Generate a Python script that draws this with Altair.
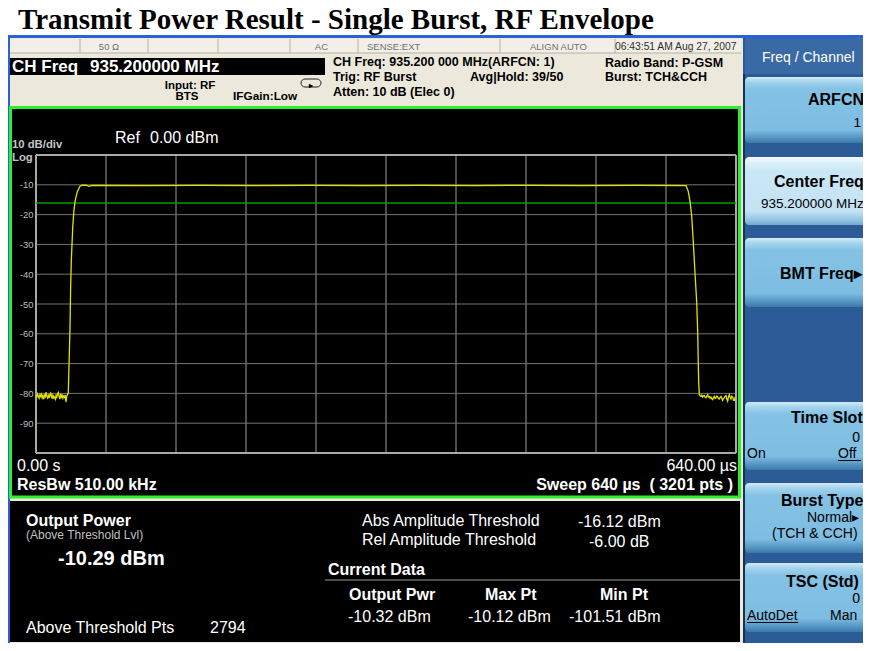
import altair as alt
import pandas as pd

# ---------------- data ----------------
time_us = [
    0.0, 0.7, 1.4, 2.1, 2.8, 3.6, 4.3, 5.0, 5.7, 6.4, 7.1, 7.8, 8.5, 9.2, 9.9, 10.6, 11.3, 12.0, 12.7, 13.4,
    14.1, 14.8, 15.5, 16.2, 16.9, 17.6, 18.3, 19.0, 19.7, 20.4, 21.1, 21.8, 22.5, 23.2, 23.9, 24.6, 25.3, 26.0,
    26.7, 27.4, 28.1, 28.8,
    29.5, 29.9, 31.1, 31.7, 32.3, 33.6, 34.7, 35.9, 37.8, 40.2, 42.3, 44.5, 46.4, 48.7, 50.9,
    100, 150, 200, 250, 300, 350, 400, 450, 500, 550, 594.3,
    596.3, 597.9, 599.5, 601.0, 602.5, 604.1, 605.0, 605.5, 605.9, 606.5,
    607.2, 608.0, 608.7, 609.5, 610.2, 611.0, 611.8, 612.6, 613.3, 614.1, 614.8, 615.6, 616.3, 617.1, 617.9,
    618.7, 619.4, 620.2, 620.9, 621.7, 622.5, 623.3, 624.0, 624.8, 625.5, 626.3, 627.0, 627.8, 628.5, 629.3,
    630.1, 630.9, 631.6, 632.4, 633.1, 633.9, 634.6, 635.4, 636.2, 637.0, 637.7, 638.5, 639.2, 640.0,
]
power_dbm = [
    -80.6, -81.3, -80.2, -80.9, -81.6, -80.4, -81.0, -80.3, -81.5, -80.8, -81.9, -80.6, -81.1, -79.6, -80.9,
    -81.5, -80.7, -81.6, -80.4, -79.9, -81.2, -80.6, -81.8, -80.9, -81.4, -82.0, -80.7, -81.3, -80.1, -79.7,
    -81.0, -81.9, -80.5, -81.2, -80.3, -81.6, -80.9, -81.3, -80.5, -82.9, -81.0, -80.3,
    -80.0, -74.5, -57.7, -44.0, -35.3, -24.1, -18.5, -15.1, -12.3, -10.5, -10.12, -10.15, -10.2, -10.5, -10.2,
    -10.25, -10.2, -10.25, -10.2, -10.25, -10.2, -10.25, -10.2, -10.25, -10.2, -10.3,
    -12.1, -15.5, -20.5, -29.5, -39.5, -49.6, -59.7, -69.7, -76.5, -80.4,
    -80.8, -81.0, -80.6, -81.2, -80.9, -80.7, -81.3, -81.5, -80.9, -80.4, -81.2, -81.0, -81.6, -81.2, -81.8,
    -82.1, -81.4, -81.0, -81.7, -81.5, -80.9, -81.2, -81.8, -81.9, -81.3, -81.0, -81.6, -82.3, -81.7, -81.5,
    -80.9, -80.7, -81.9, -82.6, -81.2, -80.4, -81.3, -81.9, -81.0, -81.2, -82.3, -82.3, -81.4, -81.5,
]
x_grid_us = [0, 64, 128, 192, 256, 320, 384, 448, 512, 576, 640]
y_grid_db = [0, -10, -20, -30, -40, -50, -60, -70, -80, -90, -100]
y_tick_db = [-10, -20, -30, -40, -50, -60, -70, -80, -90]
threshold_dbm = [-16.12]

# ---------------- geometry of the page ----------------
OX, OY = 36, 155          # screen position of the grid's top-left corner
W, H = 700, 298           # grid size
SANS = "Liberation Sans"
SERIF = "Liberation Serif"

one = pd.DataFrame({"k": [0]})
bg, fg = [], []


def box(x1, y1, x2, y2, fill, stroke=None, sw=1, r=0, to=bg):
    kw = dict(fill=fill, cornerRadius=r)
    if stroke:
        kw.update(stroke=stroke, strokeWidth=sw)
    else:
        kw.update(strokeWidth=0)
    to.append(alt.Chart(one).mark_rect(**kw).encode(
        x=alt.value(x1 - OX), x2=alt.value(x2 - OX),
        y=alt.value(y1 - OY), y2=alt.value(y2 - OY)))


def line(x1, y1, x2, y2, color, sw=1, to=bg):
    to.append(alt.Chart(one).mark_rule(color=color, strokeWidth=sw).encode(
        x=alt.value(x1 - OX), x2=alt.value(x2 - OX),
        y=alt.value(y1 - OY), y2=alt.value(y2 - OY)))


def txt(x, y, s, size=16, weight="normal", color="white", align="left", font=SANS):
    fg.append(alt.Chart(one).mark_text(
        text=s, fontSize=size, fontWeight=weight, color=color, align=align,
        baseline="alphabetic", font=font).encode(
        x=alt.value(x - OX), y=alt.value(y - OY)))


BEIGE = "#ece9dc"
BTN = {"gradient": "linear", "x1": 0, "y1": 0, "x2": 0, "y2": 1, "stops": [
    {"offset": 0, "color": "#d4ebf7"}, {"offset": 0.07, "color": "#a6d4ee"},
    {"offset": 0.18, "color": "#84c2e5"}, {"offset": 0.8, "color": "#7ebde2"},
    {"offset": 0.9, "color": "#5b9cc9"}, {"offset": 1, "color": "#3c79aa"}]}
BTN_SEL = {"gradient": "linear", "x1": 0, "y1": 0, "x2": 0, "y2": 1, "stops": [
    {"offset": 0, "color": "#f6fbfe"}, {"offset": 0.08, "color": "#def1fa"},
    {"offset": 0.2, "color": "#cae7f6"}, {"offset": 0.8, "color": "#c3e2f4"},
    {"offset": 0.9, "color": "#9ccbe8"}, {"offset": 1, "color": "#72aad3"}]}

# ---------------- backgrounds ----------------
box(8, 35, 880, 660, BEIGE)
box(8, 35, 880, 38, "#2a62d6")
box(8, 35, 10, 660, "#2a62d6")
# top status row
box(10, 39, 741, 53, "#f1efe7")
for xd in [80, 148, 218, 290, 358, 500, 615]:
    line(xd, 39, xd, 53, "#b5b1a5")
line(10, 53, 741, 53, "#b5b1a5")
# CH Freq black box
box(10, 58, 325, 75, "black")
# loop icon
box(301, 79, 321, 87, "transparent", stroke="#202020", sw=1, r=4)
# plot panel
box(10.5, 107.5, 739.5, 497, "black", stroke="#2cf02c", sw=3)
# bottom panel
box(10, 501, 740, 642, "black")
line(325, 580, 740, 580, "#9a9a9a")
# soft key panel
box(743, 38, 880, 643, "#2c5c97")
box(745, 38, 880, 74, "#3a6aa6")
line(744, 74, 744, 643, "#18314f", sw=2)
for (y1, y2, sel) in [(77, 143, False), (157, 225, True), (238, 307, False),
                      (402, 470, False), (483, 553, False), (563, 632, False)]:
    box(745, y1, 884, y2, BTN_SEL if sel else BTN, r=4)

# ---------------- data layers ----------------
xs = alt.Scale(domain=[0, 640], nice=False, zero=False)
ys = alt.Scale(domain=[-100, 0], nice=False, zero=False)
yaxis = alt.Axis(values=y_tick_db, labelExpr="replace(datum.label, '\u2212', '-')",
                 ticks=False, domain=False, grid=False, labelColor="#bdbdbd",
                 labelFontSize=9.5, labelFont=SANS, labelPadding=3, zindex=1, title=None)

gx = pd.DataFrame({"t": x_grid_us})
gy = pd.DataFrame({"v": y_grid_db})
trace = pd.DataFrame({"t": time_us, "p": power_dbm})
thr = pd.DataFrame({"v": threshold_dbm})

grid_v = alt.Chart(gx).mark_rule(color="#9c9c9c", strokeWidth=1).encode(
    x=alt.X("t:Q", scale=xs, axis=None))
grid_h = alt.Chart(gy).mark_rule(color="#747474", strokeWidth=1).encode(
    y=alt.Y("v:Q", scale=ys, axis=yaxis))
frame_v = alt.Chart(gx).transform_filter("datum.t == 0 || datum.t == 640").mark_rule(
    color="#a8a8a8", strokeWidth=2).encode(x=alt.X("t:Q", scale=xs, axis=None))
frame_h = alt.Chart(gy).transform_filter("datum.v == 0 || datum.v == -100").mark_rule(
    color="#a8a8a8", strokeWidth=2).encode(y=alt.Y("v:Q", scale=ys, axis=yaxis))
thr_line = alt.Chart(thr).mark_rule(color="#0a9a0a", strokeWidth=1.5).encode(
    y=alt.Y("v:Q", scale=ys, axis=yaxis))
trace_line = alt.Chart(trace).mark_line(color="#e2e200", strokeWidth=1.3).encode(
    x=alt.X("t:Q", scale=xs, axis=None), y=alt.Y("p:Q", scale=ys, axis=yaxis),
    order="t:Q")
data_layers = [grid_v, grid_h, frame_v, frame_h, thr_line, trace_line]

# ---------------- texts ----------------
txt(18, 29, "Transmit Power Result - Single Burst, RF Envelope", 29, "bold", "black", font=SERIF)
GRAY = "#707070"
txt(109, 50, "50 \u03a9", 9.5, color=GRAY, align="center")
txt(328, 50, "AC", 9.5, color=GRAY, align="right")
txt(367, 50, "SENSE:EXT", 9.5, color=GRAY)
txt(530, 50, "ALIGN AUTO", 9.5, color=GRAY)
txt(615, 50, "06:43:51 AM Aug 27, 2007", 10.3, color="#303030")
txt(12, 72, "CH Freq", 17, "bold")
txt(90, 72, "935.200000 MHz", 17, "bold")
txt(190, 89, "Input: RF", 11.5, "bold", "black", align="center")
txt(187, 100, "BTS", 11.5, "bold", "black", align="center")
txt(233, 100, "IFGain:Low", 11.8, "bold", "black")
txt(311, 88, "\u25b8", 8, "bold", "black", align="center")
txt(333, 66, "CH Freq: 935.200 000 MHz(ARFCN: 1)", 12.5, "bold", "black")
txt(333, 80.5, "Trig: RF Burst", 12.5, "bold", "black")
txt(470, 80.5, "Avg|Hold: 39/50", 12.5, "bold", "black")
txt(333, 95.5, "Atten: 10 dB (Elec 0)", 12.5, "bold", "black")
txt(605, 66.5, "Radio Band: P-GSM", 12.5, "bold", "black")
txt(605, 80.5, "Burst: TCH&CCH", 12.5, "bold", "black")

# plot panel
txt(12, 147.5, "10 dB/div", 11.3, "bold", "#c4c4c4")
txt(12, 161, "Log", 11.3, "bold", "#c4c4c4")
txt(115, 143, "Ref", 16)
txt(150, 143, "0.00 dBm", 16)
txt(17, 471, "0.00 s", 16)
txt(17, 490, "ResBw 510.00 kHz", 16, "bold")
txt(737, 471, "640.00 \u00b5s", 16, align="right")
txt(733, 489.5, "Sweep 640 \u00b5s\u00a0 ( 3201 pts )", 16, "bold", align="right")

# bottom panel
txt(26, 526, "Output Power", 16, "bold")
txt(26, 538.5, "(Above Threshold Lvl)", 12, color="#c0c0c0")
txt(58, 565, "-10.29 dBm", 20, "bold")
txt(26, 633, "Above Threshold Pts", 16)
txt(210, 633, "2794", 16)
txt(362, 525.5, "Abs Amplitude Threshold", 16)
txt(362, 545, "Rel Amplitude Threshold", 16)
txt(578, 526.5, "-16.12 dBm", 16)
txt(589, 546.5, "-6.00 dB", 16)
txt(328, 575, "Current Data", 16, "bold")
txt(349, 600, "Output Pwr", 16, "bold")
txt(485, 600, "Max Pt", 16, "bold")
txt(600, 600, "Min Pt", 16, "bold")
txt(348, 622, "-10.32 dBm", 16)
txt(468, 622, "-10.12 dBm", 16)
txt(569, 622, "-101.51 dBm", 16)

# soft keys (page is 8px narrower on the right than the reference screen)
txt(762, 62, "Freq / Channel", 14)
txt(864, 105, "ARFCN", 16, "bold", "black", align="right")
txt(861, 127, "1", 13.5, color="black", align="right")
txt(774, 187, "Center Freq", 16, "bold", "black")
txt(761, 208, "935.200000 MHz", 13.5, color="black")
txt(780, 279, "BMT Freq\u25b8", 16, "bold", "black")
txt(791, 423, "Time Slot", 16, "bold", "black")
txt(860, 441.5, "0", 14, color="black", align="right")
txt(747, 458, "On", 14, color="black")
txt(838, 458, "Off", 14, color="black")
line(838, 460.5, 861, 460.5, "black", to=fg)
txt(781, 506, "Burst Type", 16, "bold", "black")
txt(807, 522, "Normal\u25b8", 14, color="black")
txt(772, 538, "(TCH & CCH)", 14, color="black")
txt(786, 586.5, "TSC (Std)", 16, "bold", "black")
txt(860, 603, "0", 14, color="black", align="right")
txt(747, 620, "AutoDet", 14, color="black")
line(747, 622.5, 798, 622.5, "black", to=fg)
txt(830, 620, "Man", 14, color="black")

chart = alt.layer(*bg, *data_layers, *fg).properties(
    width=W, height=H,
    autosize=alt.AutoSizeParams(type="none"),
    padding={"left": OX - 8, "top": OY - 8, "right": 855 - (OX - 8) - W, "bottom": 635 - (OY - 8) - H},
    background="white",
).configure_view(stroke=None)

chart.save("out.html", embed_options={"renderer": "svg", "actions": False})
